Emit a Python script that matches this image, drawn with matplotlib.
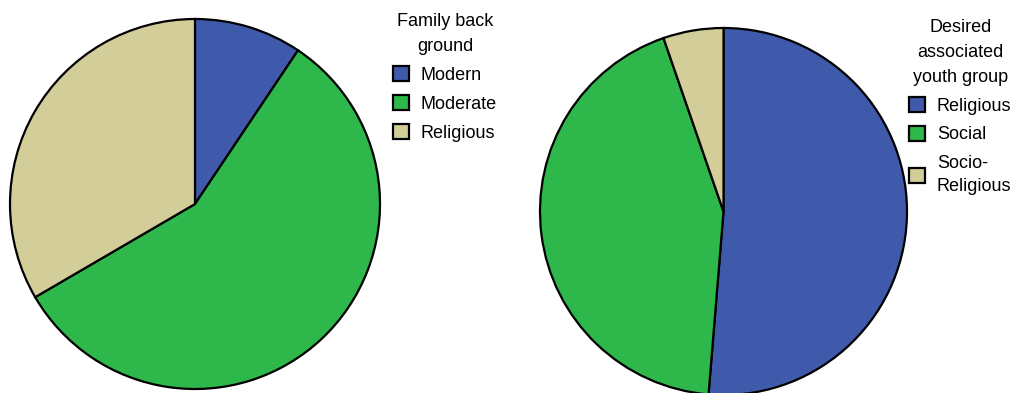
import matplotlib.pyplot as plt

plt.rcParams['font.family'] = ['Liberation Sans', 'DejaVu Sans']

# data (percent)
family_labels = ["Modern", "Moderate", "Religious"]
family_values = [9.4, 57.2, 33.4]
youth_labels = ["Religious", "Social", "Socio-\nReligious"]
youth_values = [51.3, 43.4, 5.3]
colors = ["#3f5aab", "#2eb84b", "#d3cd99"]

W, H = 1014, 393
fig = plt.figure(figsize=(W / 100, H / 100), dpi=100)

ax1 = fig.add_axes([10 / W, (H - 389) / H, 370 / W, 370 / H])
ax2 = fig.add_axes([540 / W, (H - 395) / H, 367 / W, 367 / H])

wedge_style = dict(edgecolor="black", linewidth=1.6)
w1, _ = ax1.pie(family_values, colors=colors, startangle=90, counterclock=False,
                wedgeprops=wedge_style)
w2, _ = ax2.pie(youth_values, colors=colors, startangle=90, counterclock=False,
                wedgeprops=wedge_style)
for ax in (ax1, ax2):
    ax.set_aspect("equal")
    ax.set_xlim(-1.0, 1.0)
    ax.set_ylim(-1.0, 1.0)
    ax.axis("off")

leg_kw = dict(frameon=False, fontsize=13, title_fontsize=13, handlelength=0.9,
              handleheight=0.9, handletextpad=0.65, labelspacing=0.62,
              borderaxespad=0, borderpad=0, alignment="center")
lg1 = fig.legend(w1, family_labels, title="Family back\nground", loc="upper left",
                 bbox_to_anchor=(393 / W, 1 - 13 / H), **leg_kw)
lg2 = fig.legend(w2, youth_labels, title="Desired\nassociated\nyouth group",
                 loc="upper left", bbox_to_anchor=(909 / W, 1 - 19 / H), **leg_kw)
for lg in (lg1, lg2):
    lg.get_title().set_linespacing(1.6)
    lg.get_title().set_multialignment("center")
    for t in lg.get_texts():
        t.set_linespacing(1.5)
    for h in lg.legend_handles:
        h.set_linewidth(1.6)
        h.set_edgecolor("black")

fig.savefig("out.png", dpi=100)
